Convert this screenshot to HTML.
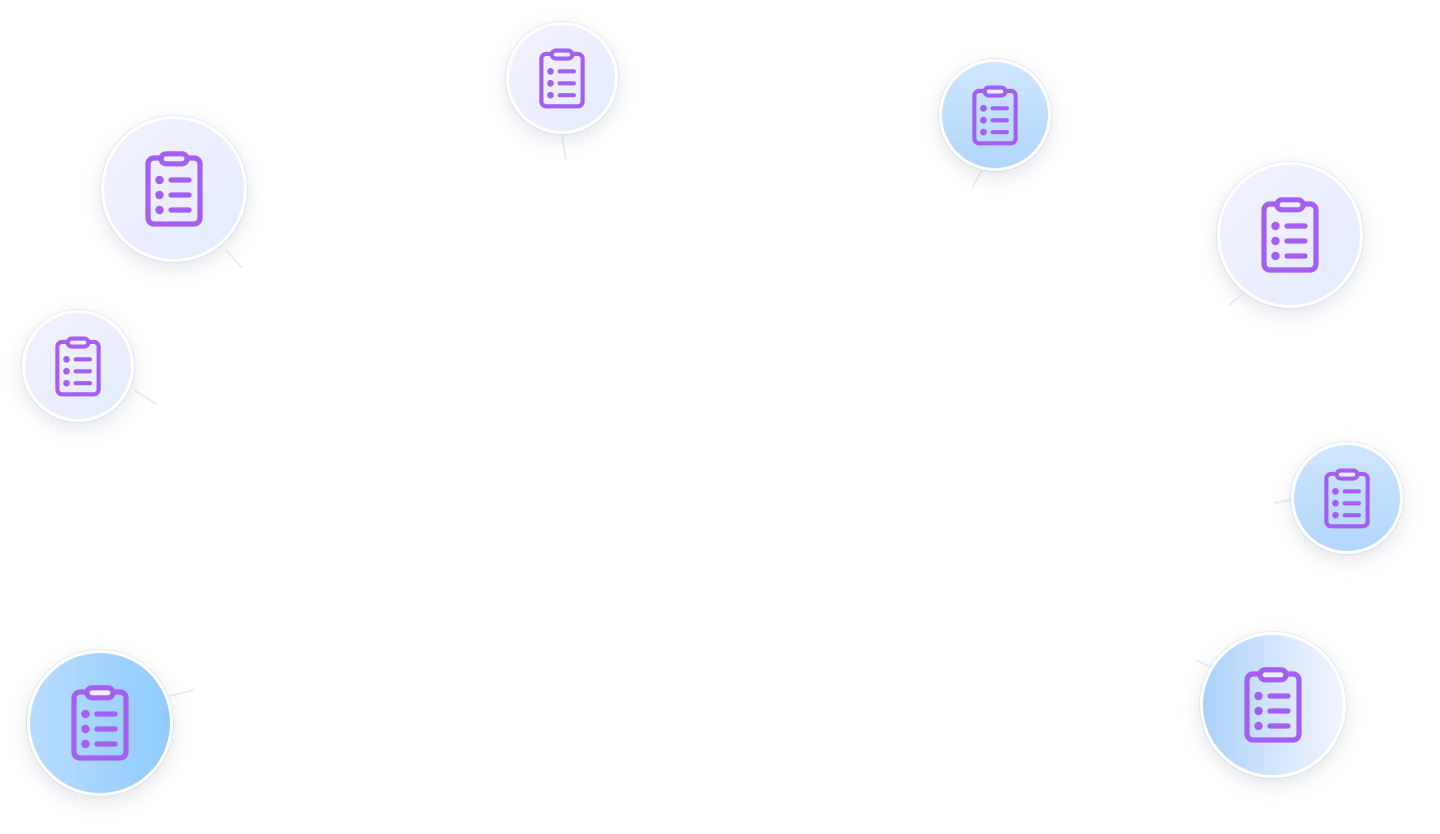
<!DOCTYPE html>
<html><head><meta charset="utf-8"><style>
html,body{margin:0;padding:0;background:#fff;width:1440px;height:834px;overflow:hidden;position:relative}
.n{position:absolute;border-radius:50%;box-sizing:border-box;border:3px solid #fff;box-shadow:0 6px 18px rgba(120,130,160,.22),0 0 0 1px #eef0f4;display:flex;align-items:center;justify-content:center}
.lav{background:linear-gradient(135deg,#f3f2fe 0%,#ebeefe 55%,#e1edfd 100%)}
.blu{background:linear-gradient(180deg,#cfe6fe 0%,#b2d7fd 100%)}
.blu2{background:linear-gradient(90deg,#b9dcfd 0%,#8fcbfb 100%)}
.bw{background:linear-gradient(90deg,#a9d2fc 0%,#d9e8fd 60%,#f1f4fe 100%)}
svg.l{position:absolute;left:0;top:0}
</style></head><body>
<svg class="l" width="1440" height="834">
<g stroke="#eceef1" stroke-width="2" fill="none">
<line x1="226" y1="250" x2="242" y2="268"/>
<line x1="134" y1="390" x2="156" y2="404"/>
<line x1="562" y1="134" x2="566" y2="160"/>
<line x1="982" y1="170" x2="972" y2="188"/>
<line x1="1245" y1="292" x2="1228" y2="306"/>
<line x1="1292" y1="500" x2="1274" y2="503"/>
<line x1="1212" y1="668" x2="1196" y2="660"/>
<line x1="170" y1="696" x2="194" y2="690"/>
</g></svg>
<svg width="0" height="0" style="position:absolute"><defs>
<symbol id="ic" viewBox="0 0 58 76"><g fill="none" stroke="#a35ff2" stroke-width="5.2" stroke-linecap="round">
<rect x="3" y="7" width="52" height="66" rx="6"/>
<rect x="16" y="2.8" width="26" height="10" rx="5" fill="#eef0fe"/>
<line x1="26" y1="29" x2="44" y2="29"/><line x1="26" y1="44" x2="44" y2="44"/><line x1="26" y1="59" x2="44" y2="59"/></g>
<g fill="#a35ff2"><circle cx="14.5" cy="29" r="4.2"/><circle cx="14.5" cy="44" r="4.2"/><circle cx="14.5" cy="59" r="4.2"/></g>
</symbol></defs></svg>

<div class="n lav" style="left:101px;top:116px;width:146px;height:146px"><svg width="58" height="76"><use href="#ic"/></svg></div>
<div class="n lav" style="left:22px;top:310px;width:112px;height:112px"><svg width="46" height="61"><use href="#ic"/></svg></div>
<div class="n lav" style="left:506px;top:22px;width:112px;height:112px"><svg width="46" height="61"><use href="#ic"/></svg></div>
<div class="n blu" style="left:939px;top:59px;width:112px;height:112px"><svg width="46" height="61"><use href="#ic"/></svg></div>
<div class="n lav" style="left:1217px;top:162px;width:146px;height:146px"><svg width="58" height="76"><use href="#ic"/></svg></div>
<div class="n blu" style="left:1291px;top:442px;width:112px;height:112px"><svg width="46" height="61"><use href="#ic"/></svg></div>
<div class="n bw" style="left:1200px;top:632px;width:146px;height:146px"><svg width="58" height="76"><use href="#ic"/></svg></div>
<div class="n blu2" style="left:27px;top:650px;width:146px;height:146px"><svg width="58" height="76"><use href="#ic"/></svg></div>
</body></html>
